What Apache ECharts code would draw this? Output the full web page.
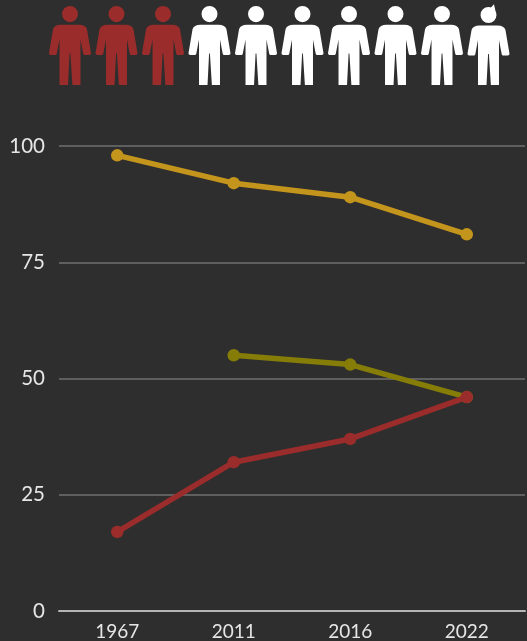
<!DOCTYPE html>
<html><head><meta charset="utf-8">
<style>html,body{margin:0;padding:0;background:#2e2e2e}#c{width:527px;height:641px}</style>
<script src="https://cdn.jsdelivr.net/npm/echarts@6/dist/echarts.min.js"></script>
</head><body><div id="c"></div>
<script>
const categories = ['1967','2011','2016','2022'];
const goldValues = [98,92,89,81];
const oliveValues = [null,55,53,46];
const redValues = [17,32,37,46];
const yTicks = [0,25,50,75,100];
const peopleTotal = 10;
const peopleRed = 3;

const BODY = 'M-9,19.5 L9,19.5 C13.5,19.5 16,21 17,24 L21,47.5 C21.3,49 20,49.5 18.5,49.5 L15,49.5 C14,49.5 13.5,49 13.2,48 L10.5,34 L10.5,79 L2.4,79 L0.4,48 L-0.4,48 L-2,79 L-10.5,79 L-10.5,34 L-13.2,48 C-13.5,49 -14,49.5 -15,49.5 L-18.5,49.5 C-20,49.5 -21.3,49 -21,47.5 L-17,24 C-16,21 -13.5,19.5 -9,19.5 Z';
const HEAD = 'M-8,9 A8,8 0 1 1 8,9 A8,8 0 1 1 -8,9 Z';
const iconPath = 'path://' + HEAD + ' ' + BODY;
const lastIconPath = 'path://' + HEAD + ' M2,2 L5.5,-1.7 L7,5 Z ' + BODY;

const peopleData = Array.from({length: peopleTotal}, (_, i) => ({
  value: [i, 0.5],
  symbol: i === peopleTotal - 1 ? lastIconPath : iconPath,
  symbolSize: i === peopleTotal - 1 ? [42, 80.7] : [42, 79],
  symbolOffset: i === peopleTotal - 1 ? [0, -0.85] : [0, 0],
  itemStyle: {color: i < peopleRed ? '#9a2c2b' : '#ffffff', opacity: 1}
}));

function lineSeries(name, data, color, z){
  return {name, type:'line', data, xAxisIndex:0, yAxisIndex:0, z,
    symbol:'circle', symbolSize:12.5, connectNulls:false,
    lineStyle:{color, width:5.5}, itemStyle:{color}, silent:true, animation:false};
}

const chart = echarts.init(document.getElementById('c'), null, {renderer:'canvas'});
chart.setOption({
  backgroundColor:'#2e2e2e',
  animation:false,
  grid:[
    {left:59, right:2, top:146, height:465.5},
    {left:46.75, width:465, top:6, height:79}
  ],
  xAxis:[
    {type:'category', gridIndex:0, data:categories,
     axisTick:{show:false},
     axisLine:{show:true, lineStyle:{color:'#b4b4b4', width:2}},
     axisLabel:{color:'#e6e6e6', fontFamily:'Lato', fontSize:19, margin:11}},
    {type:'category', gridIndex:1, data:Array.from({length:peopleTotal},(_, i)=>String(i)), show:false}
  ],
  yAxis:[
    {type:'value', gridIndex:0, min:0, max:100, interval:25,
     axisLine:{show:false}, axisTick:{show:false},
     axisLabel:{color:'#e6e6e6', fontFamily:'Lato', fontSize:20.5, margin:14, verticalAlign:'middle', lineHeight:14, padding:[0,0,7,0],
       formatter:v=>yTicks.includes(v)?String(v):''},
     splitLine:{show:true, lineStyle:{color:'#707070', width:1.5}}},
    {type:'value', gridIndex:1, min:0, max:1, show:false}
  ],
  series:[
    lineSeries('gold', goldValues, '#c4951c', 3),
    lineSeries('olive', oliveValues, '#857d08', 4),
    lineSeries('red', redValues, '#9a2c2b', 5),
    {type:'scatter', xAxisIndex:1, yAxisIndex:1, data:peopleData, silent:true, animation:false}
  ]
});
</script></body></html>
